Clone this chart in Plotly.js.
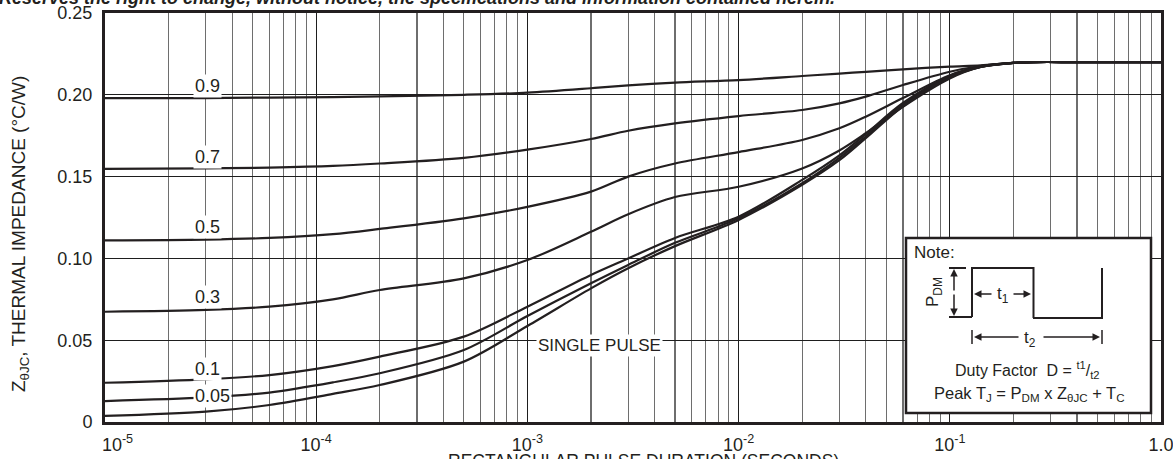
<!DOCTYPE html>
<html><head><meta charset="utf-8">
<script src="https://cdn.plot.ly/plotly-3.0.1.min.js"></script>
<style>html,body{margin:0;padding:0;background:#fff;}#chart{width:1173px;height:459px;}</style>
</head><body><div id="chart"></div>
<script>
// Pulse duration (seconds)
const pulseTime = [1e-5, 3e-5, 6e-5, 1.2e-4, 2e-4, 5e-4, 1e-3, 2e-3, 3e-3, 5e-3, 1e-2, 2e-2, 3e-2, 4e-2, 6e-2, 0.1, 0.14, 0.2, 0.25, 0.4, 1.0];
// Thermal impedance Z_thetaJC (°C/W) per duty factor
const zD09 = [0.198, 0.198, 0.1983, 0.1986, 0.199, 0.2, 0.2013, 0.204, 0.2058, 0.2075, 0.209, 0.2115, 0.213, 0.214, 0.2156, 0.2172, 0.218, 0.2195, 0.22, 0.22, 0.22];
const zD07 = [0.1547, 0.155, 0.1555, 0.1565, 0.158, 0.1615, 0.1665, 0.173, 0.178, 0.1825, 0.187, 0.1907, 0.1948, 0.1989, 0.206, 0.2141, 0.2176, 0.2195, 0.22, 0.22, 0.22];
const zD05 = [0.111, 0.1115, 0.1125, 0.1148, 0.118, 0.1245, 0.1315, 0.1408, 0.150, 0.158, 0.165, 0.1724, 0.1795, 0.1866, 0.198, 0.212, 0.2172, 0.2195, 0.22, 0.22, 0.22];
const zD03 = [0.0674, 0.0685, 0.0705, 0.075, 0.0807, 0.0878, 0.099, 0.1163, 0.127, 0.1375, 0.1438, 0.155, 0.166, 0.1765, 0.1927, 0.210, 0.217, 0.2195, 0.22, 0.22, 0.22];
const zD01 = [0.024, 0.0261, 0.0287, 0.0342, 0.040, 0.0522, 0.0705, 0.0899, 0.100, 0.1125, 0.1255, 0.148, 0.163, 0.176, 0.195, 0.2115, 0.2175, 0.2195, 0.22, 0.22, 0.22];
const zD005 = [0.0128, 0.015, 0.018, 0.0242, 0.0298, 0.044, 0.0648, 0.0848, 0.096, 0.1095, 0.1245, 0.146, 0.1615, 0.1745, 0.194, 0.211, 0.217, 0.2195, 0.22, 0.22, 0.22];
const zSingle = [0.0037, 0.0063, 0.0104, 0.0172, 0.0226, 0.0369, 0.0587, 0.0817, 0.094, 0.1075, 0.1235, 0.145, 0.160, 0.1735, 0.193, 0.2105, 0.217, 0.2195, 0.22, 0.22, 0.22];
const seriesNames = ['0.9', '0.7', '0.5', '0.3', '0.1', '0.05', 'SINGLE PULSE'];
const seriesValues = [zD09, zD07, zD05, zD03, zD01, zD005, zSingle];
// Axis ticks
const xTickVals = [1e-5, 1e-4, 1e-3, 1e-2, 1e-1, 1];
const xTickText = ['&nbsp;&nbsp;&nbsp;&nbsp;&nbsp;10<sup>-5</sup>', '10<sup>-4</sup>', '10<sup>-3</sup>', '10<sup>-2</sup>', '10<sup>-1</sup>', '1.0'];
const yTickVals = [0, 0.05, 0.10, 0.15, 0.20, 0.25];
const yTickText = ['0', '0.05', '0.10', '0.15', '0.20', '0.25'];

const INK = '#231f20';
const FONT = 'Liberation Sans, Arial, Helvetica, sans-serif';

// label placement (log10 x, y)
const labelPos = [[-4.517, 0.2054], [-4.517, 0.162], [-4.517, 0.1192], [-4.517, 0.0767], [-4.517, 0.0324], [-4.491, 0.0159], [-2.661, 0.0469]];

const traces = seriesValues.map((v, i) => ({
  x: pulseTime, y: v, type: 'scatter', mode: 'lines', name: seriesNames[i],
  line: {color: INK, width: 2.2, shape: 'spline', smoothing: 0.9}, hoverinfo: 'skip'
}));

const minorVals = [];
for (let e = -5; e < 0; e++) for (let m = 2; m <= 9; m++) minorVals.push(m * Math.pow(10, e));

// pixel -> paper helpers for the inset note decoration
const L = 105, R = 1161, T = 13, B = 422;
const px = X => (X - L) / (R - L);
const py = Y => (B - Y) / (B - T);

const shapes = [];
const ln = (x0, y0, x1, y1, w) => shapes.push({type: 'line', xref: 'paper', yref: 'paper', x0: px(x0), y0: py(y0), x1: px(x1), y1: py(y1), line: {color: INK, width: w || 2}, layer: 'above'});
shapes.push({type: 'rect', xref: 'paper', yref: 'paper', x0: px(906), y0: py(238), x1: px(1151), y1: py(413), fillcolor: '#fff', line: {color: INK, width: 2.5}, layer: 'above'});
ln(949, 268, 966, 268);
ln(949, 317, 972, 317);
ln(972, 268, 972, 317);
ln(971, 268, 1034, 268);
ln(1033.5, 267, 1033.5, 318);
ln(1033, 318, 1102, 318);
ln(1102, 268, 1102, 319);
ln(972, 330, 972, 344, 1.5);
ln(1102, 330, 1102, 344, 1.5);

const annotations = [];
seriesNames.forEach((n, i) => annotations.push({
  x: labelPos[i][0], y: labelPos[i][1], xref: 'x', yref: 'y', text: n, showarrow: false,
  xanchor: 'center', yanchor: 'middle',
  font: {family: FONT, size: n.length > 4 ? 17 : 18, color: INK}, bgcolor: '#fff', borderpad: 1
}));
const txt = (X, Y, text, size, extra) => annotations.push(Object.assign({
  x: px(X), y: py(Y), xref: 'paper', yref: 'paper', text: text, showarrow: false,
  xanchor: 'center', yanchor: 'middle',
  font: {family: FONT, size: size, color: INK}
}, extra || {}));
const arr = (X, Y, dx, dy) => annotations.push({
  x: px(X), y: py(Y), xref: 'paper', yref: 'paper', text: '', showarrow: true,
  ax: dx, ay: dy, arrowhead: 2, arrowsize: 1, arrowwidth: 1.5, arrowcolor: INK
});
txt(934, 252, 'Note:', 17);
txt(934, 292, 'P<sub>DM</sub>', 17, {textangle: -90});
txt(1003, 295, 't<sub>1</sub>', 17);
txt(1030, 339, 't<sub>2</sub>', 17);
txt(1027, 370, 'Duty Factor  D = <sup>t1</sup>/<sub>t2</sub>', 16);
txt(1029, 394, 'Peak T<sub>J</sub> = P<sub>DM</sub> x Z<sub>θJC</sub> + T<sub>C</sub>', 16.5);
arr(954, 269, 0, 23);
arr(954, 316, 0, -23);
arr(974, 294, 19, 0);
arr(1031, 294, -19, 0);
arr(974, 337, 46, 0);
arr(1100, 337, -58, 0);

// axis titles and header
annotations.push({xref: 'paper', yref: 'paper', x: px(20), y: py(234), xanchor: 'center', yanchor: 'middle', text: 'Z<sub>θJC</sub>, THERMAL IMPEDANCE (°C/W)', textangle: -90, showarrow: false, font: {family: FONT, size: 19, color: INK}});
annotations.push({xref: 'paper', yref: 'paper', x: px(643), xanchor: 'center', y: 0, yanchor: 'top', yshift: -27, text: 'RECTANGULAR PULSE DURATION (SECONDS)', showarrow: false, font: {family: FONT, size: 17.5, color: INK}});
annotations.push({xref: 'paper', yref: 'paper', x: px(-3), xanchor: 'left', y: 1, yanchor: 'bottom', yshift: 3, text: '<b><i>Reserves the right to change, without notice, the specifications and information contained herein.</i></b>', showarrow: false, font: {family: FONT, size: 18, color: INK}});

const layout = {
  width: 1173, height: 459,
  margin: {l: L, r: 1173 - R, t: T, b: 459 - B},
  paper_bgcolor: '#fff', plot_bgcolor: '#fff', showlegend: false,
  xaxis: {
    type: 'log', range: [-5, 0], tickmode: 'array', tickvals: xTickVals, ticktext: xTickText,
    showgrid: true, gridcolor: '#1e1e1e', gridwidth: 1.3, zeroline: false,
    showline: true, linecolor: INK, linewidth: 3, mirror: true, ticks: '', ticklabelstandoff: 4,
    ticklabeloverflow: 'allow',
    tickfont: {family: FONT, size: 18, color: INK},
    minor: {tickmode: 'array', tickvals: minorVals, showgrid: true, gridcolor: '#6e6e6e', gridwidth: 1.1, ticks: ''}
  },
  yaxis: {
    range: [0, 0.25], tickmode: 'array', tickvals: yTickVals, ticktext: yTickText,
    showgrid: true, gridcolor: '#1e1e1e', gridwidth: 1.2, zeroline: false,
    showline: true, linecolor: INK, linewidth: 3, mirror: true, ticks: '', ticklabelstandoff: 6,
    ticklabeloverflow: 'allow',
    tickfont: {family: FONT, size: 18, color: INK}
  },
  shapes: shapes, annotations: annotations
};
Plotly.newPlot('chart', traces, layout, {staticPlot: true, displayModeBar: false});
</script></body></html>
